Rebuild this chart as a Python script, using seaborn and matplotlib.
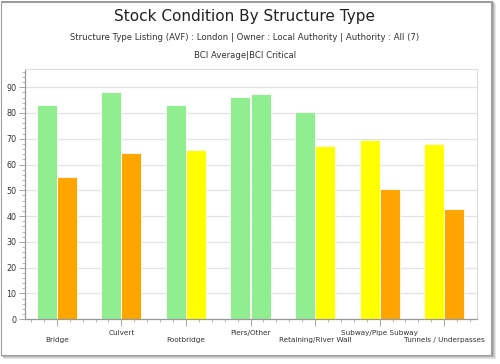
import pandas as pd
import matplotlib.pyplot as plt
import matplotlib.patches as mpatches
from matplotlib.ticker import MultipleLocator
import seaborn as sns

structures = ['Bridge', 'Culvert', 'Footbridge', 'Piers/Other',
              'Retaining/River Wall', 'Subway/Pipe Subway', 'Tunnels / Underpasses']
bci_average = [83.1, 88.3, 83.2, 86.3, 80.3, 69.6, 68.1]
bci_critical = [55.3, 64.4, 65.5, 87.3, 67.1, 50.4, 42.9]

# condition bands (BCI): Good >= 80, Fair 65-80, Poor < 65
def band_colour(v):
    if v >= 80:
        return '#90EE90'
    if v >= 65:
        return '#FFFF00'
    return '#FFA500'

dt = pd.DataFrame({
    'structure': structures * 2,
    'bci': bci_average + bci_critical,
    'measure': ['BCI Average'] * len(structures) + ['BCI Critical'] * len(structures),
})

sns.set_style('white')
plt.rcParams['font.family'] = ['DejaVu Sans']

fig = plt.figure(figsize=(5, 3.64), dpi=100)

# frame with drop shadow
for i, c in enumerate(['#e6e6e6', '#cfcfcf', '#b5b5b5', '#9a9a9a']):
    off = (4 - i) / 500
    fig.patches.append(mpatches.Rectangle((off, -off * 500 / 364 + 9 / 364), 492 / 500, 355 / 364,
                                          transform=fig.transFigure, facecolor=c,
                                          edgecolor='none', zorder=-10 + i))
fig.patches.append(mpatches.Rectangle((0.002, 9 / 364), 490 / 500, 353 / 364,
                                      transform=fig.transFigure, facecolor='white',
                                      edgecolor='#a0a0a0', linewidth=0.8, zorder=-5))

ax = fig.add_axes([0.049, 0.123, 0.904, 0.687])
ax.set_facecolor('none')
sns.barplot(data=dt, x='structure', y='bci', hue='measure', width=0.62,
            ax=ax, legend=False, errorbar=None, gap=0)

for p in ax.patches:
    p.set_facecolor(band_colour(p.get_height()))
    p.set_edgecolor('white')
    p.set_linewidth(0.6)

ax.set_xlim(-0.5, len(structures) - 0.5)
ax.set_ylim(0, 97)
ax.yaxis.set_major_locator(MultipleLocator(10))
ax.yaxis.set_minor_locator(MultipleLocator(2))
ax.xaxis.set_minor_locator(MultipleLocator(0.2))
ax.grid(axis='y', color='#e3e3e3', linewidth=0.9)
ax.set_axisbelow(True)

# staggered category labels: odd ones on the upper row, even ones on a lower row
n = len(structures)
ax.set_xticks(range(n))
ax.set_xticklabels([s if i % 2 == 1 else '' for i, s in enumerate(structures)],
                   fontsize=5.2, color='#333333')
lower = ax.secondary_xaxis('bottom')
lower.set_xticks([i for i in range(n) if i % 2 == 0])
lower.set_xticklabels([s for i, s in enumerate(structures) if i % 2 == 0],
                      fontsize=5.2, color='#333333')
lower.tick_params(axis='x', length=0, pad=13)
lower.spines['bottom'].set_visible(False)

ax.tick_params(axis='y', labelsize=5.8, colors='#333333', length=4, width=0.6, color='#999999', pad=2)
ax.tick_params(axis='x', length=5, width=0.6, color='#999999', pad=3)
ax.tick_params(which='minor', length=2, width=0.5, color='#999999')
ax.tick_params(which='both', left=True, bottom=True)
ax.set_xlabel('')
ax.set_ylabel('')

for s in ['left', 'bottom']:
    ax.spines[s].set_color('#999999')
    ax.spines[s].set_linewidth(0.9)
for s in ['top', 'right']:
    ax.spines[s].set_color('#dddddd')
    ax.spines[s].set_linewidth(0.8)

fig.text(0.49, 1 - 17 / 364, 'Stock Condition By Structure Type', ha='center', va='center',
         fontsize=11, color='#222222')
fig.text(0.49, 1 - 38 / 364, 'Structure Type Listing (AVF) : London | Owner : Local Authority | Authority : All (7)',
         ha='center', va='center', fontsize=6.1, color='#333333')
fig.text(0.49, 1 - 55 / 364, 'BCI Average|BCI Critical', ha='center', va='center',
         fontsize=6.1, color='#333333')

fig.savefig('out.png', dpi=100)
